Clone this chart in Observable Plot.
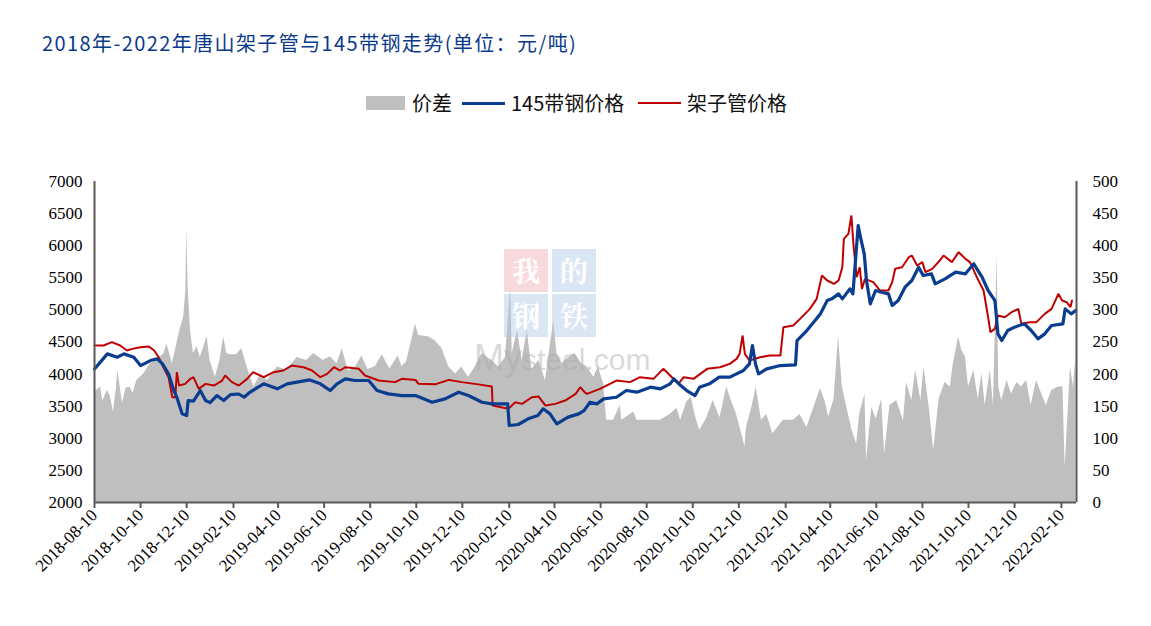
<!DOCTYPE html>
<html>
<head>
<meta charset="utf-8">
<script src="https://cdn.jsdelivr.net/npm/d3@7"></script>
<script src="https://cdn.jsdelivr.net/npm/@observablehq/plot@0.6"></script>
<style>
  html, body { margin: 0; padding: 0; background: #fff; }
  #wrap { position: relative; width: 1151px; height: 626px; overflow: hidden; background: #fff; }
  #title { position: absolute; left: 42px; top: 29px; font-family: "Noto Sans CJK SC", "Noto Sans", sans-serif; font-size: 20px; line-height: 28px; color: #0B3A8A; white-space: nowrap; letter-spacing: 1.4px; }
  #legend { position: absolute; top: 90px; left: 0; width: 1151px; height: 26px; font-family: "Noto Sans CJK SC", "Noto Sans", sans-serif; font-size: 20px; color: #111; }
  #legend .sw { position: absolute; }
  #legend .lb { position: absolute; top: 0; line-height: 26px; white-space: nowrap; }
  #chart { position: absolute; left: 0; top: 150px; }
  #wm { position: absolute; left: 0; top: 0; width: 1151px; height: 626px; pointer-events: none; }
  .box { position: absolute; width: 44px; height: 43px; overflow: hidden; color: #fff; font-family: "Noto Serif CJK SC", "Noto Sans CJK SC", serif; font-weight: 700; font-size: 28px; line-height: 43px; text-align: center; }
  .wmtext { position: absolute; font-family: "Liberation Sans", Arial, sans-serif; color: rgba(170,170,170,0.45); white-space: nowrap; }
</style>
</head>
<body>
<div id="wrap">
  <div id="title">2018年-2022年唐山架子管与145带钢走势(单位：元/吨)</div>
  <div id="legend">
    <div class="sw" style="left:366px;top:6px;width:39px;height:14px;background:#BFBFBF"></div>
    <div class="lb" style="left:412px">价差</div>
    <div class="sw" style="left:462px;top:12px;width:43px;height:3px;background:#0A3D8F"></div>
    <div class="lb" style="left:511px">145带钢价格</div>
    <div class="sw" style="left:638px;top:12px;width:43px;height:2px;background:#C00000"></div>
    <div class="lb" style="left:687px">架子管价格</div>
  </div>
  <div id="chart"></div>
  <div id="wm">
    <div class="box" style="left:504px;top:249px;background:rgba(240,170,178,0.45)">我</div>
    <div class="box" style="left:552px;top:249px;background:rgba(175,200,230,0.45)">的</div>
    <div class="box" style="left:504px;top:294px;background:rgba(175,200,230,0.45)">钢</div>
    <div class="box" style="left:552px;top:294px;background:rgba(175,200,230,0.45)">铁</div>
    <div class="wmtext" style="left:474px;top:340px;font-size:30px;line-height:36px"><span style="font-size:36px">My</span>steel.com</div>
  </div>
</div>
<script>
// ---- data ----
// 145带钢价格 (left axis, 元/吨)
const stripPrice = [
["2018-08-10",4080],["2018-08-27",4315],["2018-09-09",4263],["2018-09-18",4315],["2018-10-01",4263],
["2018-10-10",4133],["2018-10-23",4211],["2018-11-01",4237],["2018-11-08",4160],["2018-11-16",4004],
["2018-11-23",3744],["2018-11-27",3640],["2018-12-04",3381],["2018-12-10",3354],["2018-12-12",3588],
["2018-12-19",3580],["2018-12-28",3744],["2019-01-04",3588],["2019-01-10",3555],["2019-01-19",3666],
["2019-01-28",3588],["2019-02-06",3681],["2019-02-17",3690],["2019-02-24",3640],["2019-03-04",3720],
["2019-03-22",3848],["2019-04-09",3770],["2019-04-22",3848],["2019-05-05",3875],["2019-05-22",3910],
["2019-06-05",3848],["2019-06-18",3744],["2019-06-27",3848],["2019-07-08",3926],["2019-07-21",3900],
["2019-08-08",3900],["2019-08-19",3744],["2019-09-03",3692],["2019-09-21",3666],["2019-10-09",3666],
["2019-10-31",3562],["2019-11-17",3614],["2019-12-05",3718],["2019-12-18",3666],["2020-01-05",3562],
["2020-01-18",3536],["2020-02-08",3536],["2020-02-10",3199],["2020-02-22",3215],["2020-03-06",3303],
["2020-03-19",3354],["2020-03-26",3459],["2020-04-04",3380],["2020-04-13",3225],["2020-04-28",3330],
["2020-05-12",3380],["2020-05-19",3432],["2020-05-27",3562],["2020-06-05",3536],["2020-06-14",3614],
["2020-07-01",3640],["2020-07-14",3744],["2020-07-28",3718],["2020-08-15",3796],["2020-08-28",3770],
["2020-09-10",3848],["2020-09-15",3926],["2020-09-24",3822],["2020-10-02",3744],["2020-10-13",3666],
["2020-10-19",3796],["2020-11-01",3848],["2020-11-14",3952],["2020-11-28",3952],["2020-12-07",4004],
["2020-12-16",4056],["2020-12-24",4160],["2020-12-28",4445],["2021-01-01",4160],["2021-01-05",4004],
["2021-01-16",4082],["2021-02-03",4133],["2021-02-23",4145],["2021-02-25",4523],["2021-03-10",4679],
["2021-03-19",4808],["2021-03-28",4938],["2021-04-06",5146],["2021-04-12",5172],["2021-04-21",5250],
["2021-04-26",5172],["2021-05-06",5328],["2021-05-10",5250],["2021-05-17",6314],["2021-05-20",6132],
["2021-05-25",5873],["2021-05-28",5458],["2021-06-02",5094],["2021-06-09",5302],["2021-06-17",5276],
["2021-06-26",5250],["2021-07-01",5068],["2021-07-09",5146],["2021-07-18",5354],["2021-07-27",5458],
["2021-08-05",5665],["2021-08-11",5535],["2021-08-22",5562],["2021-08-27",5406],["2021-09-09",5484],
["2021-09-23",5588],["2021-10-06",5562],["2021-10-17",5718],["2021-10-28",5510],["2021-11-05",5302],
["2021-11-14",5146],["2021-11-18",4627],["2021-11-23",4523],["2021-12-01",4679],["2021-12-10",4731],
["2021-12-23",4783],["2022-01-01",4679],["2022-01-10",4549],["2022-01-19",4627],["2022-01-28",4757],
["2022-02-12",4783],["2022-02-15",5016],["2022-02-23",4938],["2022-03-01",4990]
];
// 架子管价格 (left axis, 元/吨)
const pipePrice = [
["2018-08-10",4445],["2018-08-22",4445],["2018-09-02",4497],["2018-09-13",4445],["2018-09-22",4367],
["2018-09-29",4393],["2018-10-10",4419],["2018-10-21",4430],["2018-10-28",4367],["2018-11-03",4263],
["2018-11-08",4133],["2018-11-16",3952],["2018-11-21",3640],["2018-11-25",3640],["2018-11-27",4030],
["2018-11-30",3822],["2018-12-08",3848],["2018-12-15",3926],["2018-12-19",3952],["2018-12-26",3770],
["2019-01-04",3848],["2019-01-15",3822],["2019-01-26",3900],["2019-01-30",3978],["2019-02-08",3875],
["2019-02-17",3822],["2019-02-28",3926],["2019-03-08",4030],["2019-03-22",3952],["2019-04-04",4030],
["2019-04-17",4056],["2019-04-28",4133],["2019-05-14",4107],["2019-05-25",4056],["2019-06-05",3952],
["2019-06-14",4004],["2019-06-23",4107],["2019-07-01",4056],["2019-07-08",4107],["2019-07-26",4082],
["2019-08-03",3978],["2019-08-21",3900],["2019-09-12",3875],["2019-09-21",3926],["2019-10-09",3910],
["2019-10-13",3848],["2019-11-04",3840],["2019-11-22",3910],["2019-12-09",3875],["2019-12-31",3840],
["2020-01-18",3806],["2020-01-19",3510],["2020-02-09",3459],["2020-02-18",3562],["2020-02-27",3536],
["2020-03-11",3640],["2020-03-20",3650],["2020-03-29",3510],["2020-04-11",3536],["2020-04-24",3588],
["2020-05-08",3692],["2020-05-14",3796],["2020-05-20",3718],["2020-05-23",3692],["2020-06-09",3770],
["2020-07-01",3900],["2020-07-19",3875],["2020-08-01",3952],["2020-08-19",3926],["2020-09-01",4082],
["2020-09-10",3978],["2020-09-21",3848],["2020-09-28",3952],["2020-10-11",3926],["2020-10-29",4082],
["2020-11-15",4107],["2020-11-28",4160],["2020-12-07",4237],["2020-12-11",4315],["2020-12-15",4601],
["2020-12-18",4315],["2020-12-24",4211],["2021-01-07",4263],["2021-01-20",4289],["2021-02-03",4289],
["2021-02-07",4731],["2021-02-20",4757],["2021-03-01",4860],["2021-03-14",5016],["2021-03-23",5172],
["2021-03-30",5536],["2021-04-06",5458],["2021-04-15",5406],["2021-04-21",5458],["2021-04-26",5665],
["2021-04-28",6107],["2021-05-04",6185],["2021-05-08",6470],["2021-05-11",5977],["2021-05-15",5509],
["2021-05-19",5665],["2021-05-22",5328],["2021-05-26",5484],["2021-06-06",5432],["2021-06-15",5302],
["2021-06-26",5302],["2021-07-01",5432],["2021-07-05",5640],["2021-07-14",5665],["2021-07-23",5821],
["2021-07-27",5847],["2021-08-03",5692],["2021-08-10",5744],["2021-08-14",5588],["2021-08-23",5640],
["2021-09-02",5770],["2021-09-07",5847],["2021-09-18",5744],["2021-09-27",5899],["2021-10-06",5795],
["2021-10-12",5744],["2021-10-21",5510],["2021-10-30",5302],["2021-11-05",4886],["2021-11-08",4653],
["2021-11-14",4705],["2021-11-18",4912],["2021-11-27",4886],["2021-12-06",4964],["2021-12-15",5016],
["2021-12-19",4783],["2021-12-30",4809],["2022-01-08",4809],["2022-01-19",4938],["2022-01-28",5016],
["2022-02-06",5250],["2022-02-11",5146],["2022-02-17",5120],["2022-02-22",5042],["2022-02-24",5146]
];
// 价差 (right axis, 元/吨)
const spread = [
["2018-08-10",170],["2018-08-14",176],["2018-08-18",180],["2018-08-21",158],["2018-08-27",175],
["2018-08-31",165],["2018-09-04",141],["2018-09-08",178],["2018-09-10",205],["2018-09-13",180],
["2018-09-16",155],["2018-09-21",178],["2018-09-26",180],["2018-09-30",170],["2018-10-05",190],
["2018-10-14",200],["2018-10-23",216],["2018-11-01",221],["2018-11-10",232],["2018-11-14",247],
["2018-11-21",216],["2018-11-27",247],["2018-12-01",268],["2018-12-06",289],["2018-12-09",330],
["2018-12-10",428],["2018-12-12",335],["2018-12-15",268],["2018-12-19",232],["2018-12-24",243],
["2018-12-28",226],["2019-01-06",258],["2019-01-10",221],["2019-01-17",195],["2019-01-23",221],
["2019-01-28",258],["2019-02-01",232],["2019-02-06",230],["2019-02-14",230],["2019-02-21",240],
["2019-02-28",211],["2019-03-09",180],["2019-03-18",200],["2019-03-27",190],["2019-04-09",211],
["2019-04-22",206],["2019-05-05",226],["2019-05-18",221],["2019-05-27",232],["2019-06-09",221],
["2019-06-18",227],["2019-06-27",216],["2019-07-04",240],["2019-07-12",205],["2019-07-21",210],
["2019-07-30",228],["2019-08-07",207],["2019-08-17",212],["2019-08-26",230],["2019-09-05",208],
["2019-09-16",228],["2019-09-21",212],["2019-09-27",219],["2019-10-09",278],["2019-10-13",260],
["2019-10-26",258],["2019-11-04",252],["2019-11-13",240],["2019-11-22",211],["2019-12-01",200],
["2019-12-09",211],["2019-12-18",195],["2019-12-27",211],["2020-01-05",232],["2020-01-18",221],
["2020-01-27",211],["2020-02-05",226],["2020-02-12",335],["2020-02-14",232],["2020-02-21",268],
["2020-02-27",221],["2020-03-05",268],["2020-03-11",206],["2020-03-20",221],["2020-03-29",190],
["2020-04-09",284],["2020-04-13",232],["2020-04-20",216],["2020-04-29",226],["2020-05-07",232],
["2020-05-16",216],["2020-05-23",211],["2020-06-01",195],["2020-06-07",211],["2020-06-14",185],
["2020-06-18",128],["2020-06-27",128],["2020-07-06",151],["2020-07-08",128],["2020-07-24",141],
["2020-07-28",128],["2020-08-28",128],["2020-09-10",137],["2020-09-19",147],["2020-09-24",128],
["2020-10-02",156],["2020-10-08",164],["2020-10-13",137],["2020-10-19",112],["2020-10-28",130],
["2020-11-06",159],["2020-11-15",132],["2020-11-24",180],["2020-11-30",159],["2020-12-07",137],
["2020-12-16",97],["2020-12-18",86],["2020-12-20",117],["2020-12-27",147],["2021-01-02",180],
["2021-01-09",128],["2021-01-16",137],["2021-01-24",107],["2021-02-07",128],["2021-02-20",128],
["2021-03-01",137],["2021-03-10",117],["2021-03-19",147],["2021-03-28",177],["2021-04-03",159],
["2021-04-08",133],["2021-04-15",161],["2021-04-21",258],["2021-04-26",180],["2021-05-02",148],
["2021-05-09",112],["2021-05-15",91],["2021-05-19",138],["2021-05-26",169],["2021-05-28",65],
["2021-06-04",148],["2021-06-10",130],["2021-06-17",161],["2021-06-21",76],["2021-06-28",151],
["2021-07-07",159],["2021-07-16",127],["2021-07-20",187],["2021-07-27",159],["2021-08-01",206],
["2021-08-08",159],["2021-08-12",211],["2021-08-19",148],["2021-08-25",81],["2021-09-01",161],
["2021-09-09",187],["2021-09-16",180],["2021-09-20",216],["2021-09-27",258],["2021-10-01",237],
["2021-10-06",227],["2021-10-10",180],["2021-10-17",206],["2021-10-23",161],["2021-10-28",201],
["2021-11-01",151],["2021-11-08",206],["2021-11-12",151],["2021-11-17",385],["2021-11-19",180],
["2021-11-23",159],["2021-11-30",190],["2021-12-06",169],["2021-12-13",187],["2021-12-19",180],
["2021-12-26",190],["2022-01-01",151],["2022-01-08",190],["2022-01-15",169],["2022-01-21",151],
["2022-01-28",174],["2022-02-06",180],["2022-02-12",180],["2022-02-15",55],["2022-02-22",211],
["2022-02-26",180],["2022-03-01",226]
];
const xTickLabels = ["2018-08-10","2018-10-10","2018-12-10","2019-02-10","2019-04-10","2019-06-10",
  "2019-08-10","2019-10-10","2019-12-10","2020-02-10","2020-04-10","2020-06-10","2020-08-10",
  "2020-10-10","2020-12-10","2021-02-10","2021-04-10","2021-06-10","2021-08-10","2021-10-10",
  "2021-12-10","2022-02-10"];
const leftTicks = [2000,2500,3000,3500,4000,4500,5000,5500,6000,6500,7000];
const rightTicks = [0,50,100,150,200,250,300,350,400,450,500];

// ---- build ----
const parse = d3.utcParse("%Y-%m-%d");
const toRows = arr => arr.map(([d, v]) => ({date: parse(d), value: v}));
const strip = toRows(stripPrice), pipe = toRows(pipePrice), diff = toRows(spread);
// right axis (0–500) shares the plot with the left axis (2000–7000)
const rightToLeft = v => 2000 + (v - 0) * (7000 - 2000) / (500 - 0);
const leftToRight = v => Math.round((v - 2000) * (500 - 0) / (7000 - 2000));
const xStart = parse("2018-08-10"), xEnd = parse("2022-03-02");

const chart = Plot.plot({
  width: 1151, height: 476,
  marginTop: 31, marginBottom: 124, marginLeft: 94, marginRight: 75,
  x: {type: "utc", domain: [xStart, xEnd]},
  y: {domain: [2000, 7000]},
  style: {fontFamily: "'Liberation Serif', 'Times New Roman', serif", fontSize: "17px", color: "#000", background: "transparent", overflow: "visible"},
  marks: [
    Plot.areaY(diff, {x: "date", y1: 2000, y2: d => rightToLeft(d.value), fill: "#BFBFBF", curve: "linear"}),
    Plot.line(pipe, {x: "date", y: "value", stroke: "#C00000", strokeWidth: 2, curve: "linear", strokeLinejoin: "miter"}),
    Plot.line(strip, {x: "date", y: "value", stroke: "#0A3D8F", strokeWidth: 3.2, curve: "linear"}),
    Plot.axisY({ticks: leftTicks, anchor: "left", tickSize: 0, tickPadding: 12, label: null, tickFormat: d => String(d)}),
    Plot.axisY({ticks: rightTicks.map(rightToLeft), anchor: "right", tickSize: 0, tickPadding: 16, label: null, tickFormat: d => String(leftToRight(d))}),
    Plot.axisX({ticks: xTickLabels.map(parse), tickFormat: d3.utcFormat("%Y-%m-%d"), tickRotate: -45, tickSize: 6, tickPadding: 4, stroke: "#595959", strokeWidth: 2, label: null, fontSize: 17}),
    Plot.ruleX([xStart], {stroke: "#595959", strokeWidth: 2}),
    Plot.ruleX([xEnd], {stroke: "#595959", strokeWidth: 2}),
    Plot.ruleY([2000], {stroke: "#595959", strokeWidth: 2})
  ]
});
document.getElementById("chart").appendChild(chart);
</script>
</body>
</html>
